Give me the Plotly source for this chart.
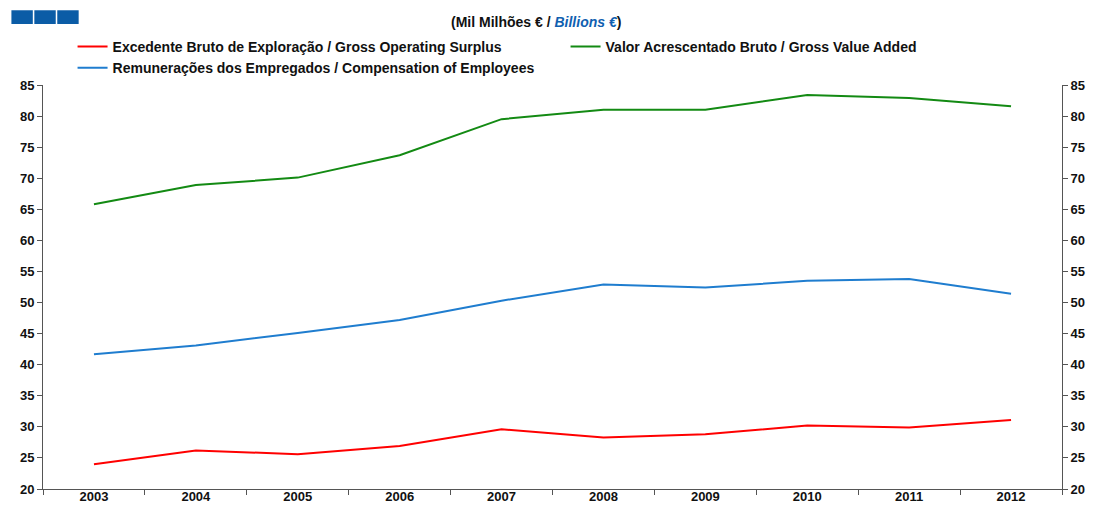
import plotly.graph_objects as go

# Portugal national accounts, billions of euro
years = ["2003", "2004", "2005", "2006", "2007", "2008", "2009", "2010", "2011", "2012"]
gross_operating_surplus = [24.0, 26.2, 25.6, 26.9, 29.6, 28.3, 28.8, 30.2, 29.9, 31.1]
gross_value_added = [65.8, 68.9, 70.1, 73.7, 79.5, 81.0, 81.0, 83.4, 82.9, 81.6]
compensation_employees = [41.7, 43.1, 45.1, 47.2, 50.3, 52.9, 52.4, 53.5, 53.8, 51.4]

y_ticks = list(range(20, 90, 5))

SERIES = [
    ("Excedente Bruto de Exploração / Gross Operating Surplus", gross_operating_surplus, "#ff0000"),
    ("Valor Acrescentado Bruto / Gross Value Added", gross_value_added, "#138a13"),
    ("Remunerações dos Empregados / Compensation of Employees", compensation_employees, "#1f7dcf"),
]

FONT = dict(family="Liberation Sans, Arial, sans-serif", size=13, color="#111111")
AXIS_COLOR = "#555555"

fig = go.Figure()
for name, values, color in SERIES:
    fig.add_trace(go.Scatter(
        x=years, y=values, name=name, mode="lines",
        line=dict(color=color, width=2),
    ))

# invisible trace to carry the right-hand axis
fig.add_trace(go.Scatter(x=years, y=gross_value_added, yaxis="y2", mode="lines",
                         line=dict(width=0), showlegend=False, hoverinfo="skip"))

yaxis_common = dict(
    range=[20, 85], tickvals=y_ticks, showgrid=False, zeroline=False,
    showline=True, linecolor=AXIS_COLOR, linewidth=1,
    ticks="outside", ticklen=5, tickcolor=AXIS_COLOR,
    tickfont=dict(size=13, weight="bold", color="#111111"),
)

# page body keeps an 8px margin, so the figure is sized to fit inside it
fig.update_layout(
    font=FONT,
    width=1089, height=508,
    plot_bgcolor="white", paper_bgcolor="white",
    margin=dict(l=34, r=25, t=77, b=15),
    xaxis=dict(
        type="category", showgrid=False, showline=True, linecolor=AXIS_COLOR,
        ticks="outside", tickson="boundaries", ticklen=5, tickcolor=AXIS_COLOR,
        tickfont=dict(size=13, weight="bold", color="#111111"),
        ticklabelstandoff=-5,
        range=[-0.5, 9.5],
    ),
    yaxis=dict(**yaxis_common, side="left"),
    yaxis2=dict(**yaxis_common, side="right", overlaying="y"),
    legend=dict(
        orientation="h", x=0.029, xanchor="left", y=1.134, yanchor="top",
        font=dict(size=14, weight="bold", color="#111111"), entrywidth=448, itemwidth=30,
        tracegroupgap=0, bgcolor="rgba(0,0,0,0)",
    ),
    showlegend=True,
    annotations=[dict(
        text="<b>(Mil Milhões € / <i><span style='color:#1060b0'>Billions €</span></i>)</b>",
        xref="paper", yref="paper", x=0.484, y=1.156, xanchor="center", yanchor="middle",
        showarrow=False, font=dict(size=14, color="#111111"),
    )],
    shapes=[
        dict(type="rect", xref="paper", yref="paper", x0=x0, x1=x0 + 0.021,
             y0=1.151, y1=1.185, fillcolor="#0b5ca6", line_width=0)
        for x0 in (-0.031, -0.0085, 0.014)
    ],
)

fig.write_html("out.html")
